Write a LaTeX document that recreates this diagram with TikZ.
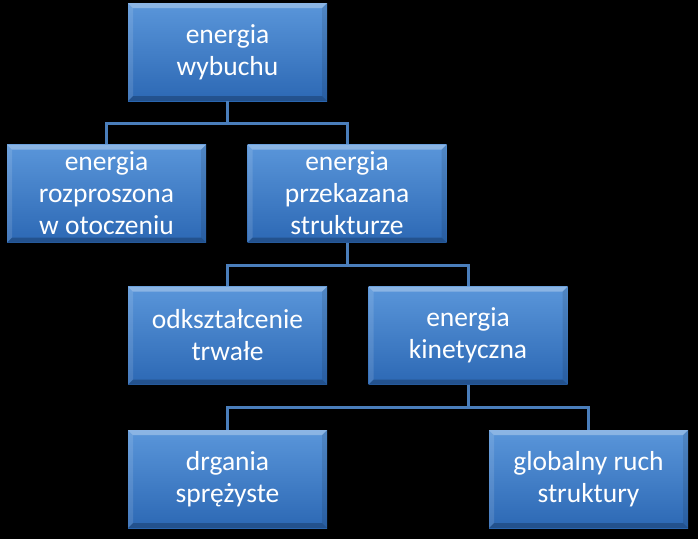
\documentclass[tikz,border=0pt]{standalone}
\usepackage{fontspec}
\setmainfont{Carlito}
\definecolor{boxtop}{RGB}{90,150,218}
\definecolor{boxbot}{RGB}{44,104,180}
\definecolor{conncol}{RGB}{74,126,187}
\begin{document}
\begin{tikzpicture}[x=1pt,y=-1pt,
  box/.style={rectangle, minimum width=199pt, minimum height=98pt, inner sep=0pt,
    align=center, text=white, font=\fontsize{27.5}{32}\selectfont,
    top color=boxtop, bottom color=boxbot,
    path picture={
      \fill[white,opacity=0.30] (path picture bounding box.north west) -- (path picture bounding box.north east)
        -- ([xshift=-5pt,yshift=-5pt]path picture bounding box.north east) -- ([xshift=5pt,yshift=-5pt]path picture bounding box.north west) -- cycle;
      \fill[white,opacity=0.12] (path picture bounding box.north west) -- ([xshift=5pt,yshift=-5pt]path picture bounding box.north west)
        -- ([xshift=5pt,yshift=5pt]path picture bounding box.south west) -- (path picture bounding box.south west) -- cycle;
      \fill[black,opacity=0.10] (path picture bounding box.north east) -- ([xshift=-5pt,yshift=-5pt]path picture bounding box.north east)
        -- ([xshift=-5pt,yshift=5pt]path picture bounding box.south east) -- (path picture bounding box.south east) -- cycle;
      \fill[black,opacity=0.22] (path picture bounding box.south west) -- (path picture bounding box.south east)
        -- ([xshift=-5pt,yshift=5pt]path picture bounding box.south east) -- ([xshift=5pt,yshift=5pt]path picture bounding box.south west) -- cycle;
    }},
  conn/.style={draw=conncol, line width=3pt}]
\fill[black] (0,0) rectangle (698,539);
\useasboundingbox (0,0) rectangle (698,539);

\node[box] (b1) at (227.5,52) {energia\\wybuchu};
\node[box] (b2) at (106.5,193.5) {energia\\rozproszona\\w otoczeniu};
\node[box] (b3) at (347,193.5) {energia\\przekazana\\strukturze};
\node[box] (b4) at (227.5,335.5) {odkształcenie\\trwałe};
\node[box] (b5) at (468,335.5) {energia\\kinetyczna};
\node[box] (b6) at (227.5,479) {drgania\\sprężyste};
\node[box] (b7) at (588.5,479) {globalny ruch\\struktury};

\coordinate (j1) at (227.5,123);
\coordinate (j2) at (347,265);
\coordinate (j3) at (468,407);

\draw[conn] (b1.south) -- (j1);
\draw[conn] (b2.north) |- (j1) -| (b3.north);
\draw[conn] (b3.south) -- (j2);
\draw[conn] (b4.north) |- (j2) -| (b5.north);
\draw[conn] (b5.south) -- (j3);
\draw[conn] (b6.north) |- (j3) -| (b7.north);
\end{tikzpicture}
\end{document}
